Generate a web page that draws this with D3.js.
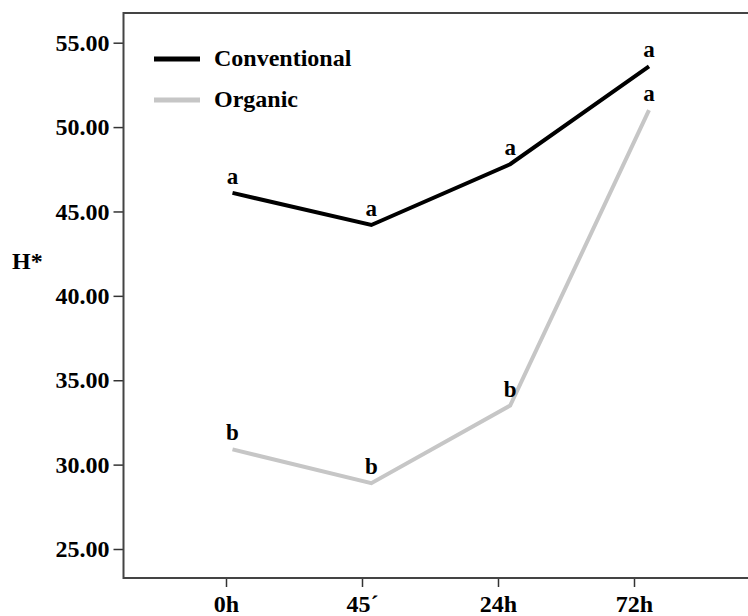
<!DOCTYPE html>
<html>
<head>
<meta charset="utf-8">
<script src="https://cdn.jsdelivr.net/npm/d3@7"></script>
<style>
  html, body { margin: 0; padding: 0; background: #fff; }
  svg { display: block; }
  text { font-family: "Liberation Serif", "Times New Roman", serif; font-weight: bold; fill: #000; }
</style>
</head>
<body>
<svg id="chart" width="748" height="616"></svg>
<script>
const categories = ["0h", "45\u00B4", "24h", "72h"];
const conventional = [46.1, 44.2, 47.8, 53.6];
const organic = [30.9, 28.9, 33.5, 51.0];
const conventionalLetters = ["a", "a", "a", "a"];
const organicLetters = ["b", "b", "b", "a"];
const yTicks = [25, 30, 35, 40, 45, 50, 55];
const seriesNames = ["Conventional", "Organic"];
const seriesColors = ["#000000", "#c6c6c6"];

const svg = d3.select("#chart");
const frameLeft = 123.5, frameTop = 13, frameBottom = 578, frameRight = 748;

const y = d3.scaleLinear().domain([25, 55]).range([549, 42.7]);
const xAxisScale = d3.scalePoint().domain(categories).range([226, 634]);
const xData = d3.scalePoint().domain(categories).range([232.5, 649]);

// frame: top border
svg.append("line")
  .attr("x1", frameLeft).attr("x2", frameRight)
  .attr("y1", frameTop).attr("y2", frameTop)
  .attr("stroke", "#444").attr("stroke-width", 2);

const fontFam = '"Liberation Serif", "Times New Roman", serif';

// y axis
const yAxis = d3.axisLeft(y).tickValues(yTicks).tickFormat(d3.format(".2f")).tickSize(10).tickPadding(4);
const gy = svg.append("g").attr("transform", `translate(${frameLeft},0)`).call(yAxis);
gy.select(".domain").remove();
gy.append("line").attr("x1", 0).attr("x2", 0).attr("y1", frameTop - 1).attr("y2", frameBottom + 1)
  .attr("stroke", "#444").attr("stroke-width", 2);
gy.selectAll(".tick line").attr("stroke", "#333").attr("stroke-width", 1.5);
gy.selectAll(".tick text").style("font-size", "24px").style("font-family", fontFam)
  .style("font-weight", "bold").attr("fill", "#000");

// x axis
const xAxis = d3.axisBottom(xAxisScale).tickSize(9).tickPadding(8);
const gx = svg.append("g").attr("transform", `translate(0,${frameBottom})`).call(xAxis);
gx.select(".domain").remove();
gx.append("line").attr("x1", frameLeft).attr("x2", frameRight).attr("y1", 0).attr("y2", 0)
  .attr("stroke", "#444").attr("stroke-width", 2);
gx.selectAll(".tick line").attr("stroke", "#333").attr("stroke-width", 1.5);
gx.selectAll(".tick text").style("font-size", "24px").style("font-family", fontFam)
  .style("font-weight", "bold").attr("fill", "#000");

// y axis title
svg.append("text").attr("x", 12).attr("y", 269).style("font-size", "24px").text("H*");

// lines
const line = d3.line().x((d, i) => xData(categories[i])).y(d => y(d));
const series = [
  { values: conventional, letters: conventionalLetters, color: seriesColors[0] },
  { values: organic, letters: organicLetters, color: seriesColors[1] }
];
series.forEach(s => {
  svg.append("path").datum(s.values)
    .attr("d", line)
    .attr("fill", "none")
    .attr("stroke", s.color)
    .attr("stroke-width", 4)
    .attr("stroke-linejoin", "miter");
  svg.selectAll(null).data(s.values).enter().append("text")
    .attr("x", (d, i) => xData(categories[i]))
    .attr("y", d => y(d) - 9)
    .attr("text-anchor", "middle")
    .style("font-size", "23px")
    .text((d, i) => s.letters[i]);
});

// legend
const legendY = [59, 100];
seriesNames.forEach((name, i) => {
  svg.append("line").attr("x1", 154).attr("x2", 200)
    .attr("y1", legendY[i]).attr("y2", legendY[i])
    .attr("stroke", seriesColors[i]).attr("stroke-width", 5);
  svg.append("text").attr("x", 214).attr("y", legendY[i] + 7)
    .style("font-size", "24px").text(name);
});
</script>
</body>
</html>
